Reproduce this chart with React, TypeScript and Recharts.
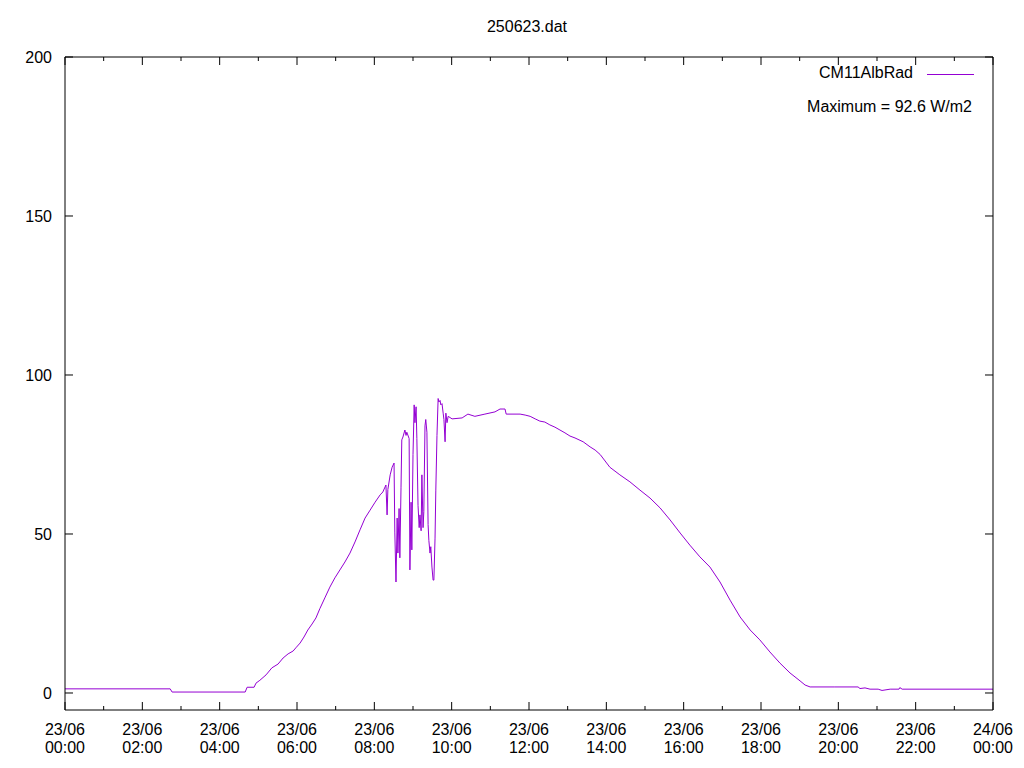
import { LineChart, Line, XAxis, YAxis } from 'recharts'

// time of day in hours (23/06)
const hours = [
  0, 2.72, 2.77, 4.66, 4.71, 4.89, 4.94, 5.04, 5.2, 5.35, 5.51, 5.64, 5.77, 5.9, 5.97,
  6.08, 6.18, 6.28, 6.39, 6.49, 6.59, 6.72, 6.85, 6.98, 7.11, 7.24, 7.37, 7.5, 7.63, 7.76,
  7.89, 8.02, 8.15, 8.22, 8.3, 8.33, 8.35, 8.41, 8.46, 8.51, 8.53, 8.56, 8.59, 8.61, 8.64,
  8.66, 8.69, 8.71, 8.74, 8.79, 8.82, 8.84, 8.9, 8.92, 8.95, 8.97, 9.0, 9.03, 9.05, 9.08,
  9.1, 9.13, 9.16, 9.18, 9.21, 9.23, 9.26, 9.28, 9.31, 9.33, 9.36, 9.39, 9.41, 9.44, 9.46,
  9.49, 9.52, 9.54, 9.57, 9.59, 9.62, 9.65, 9.67, 9.7, 9.72, 9.75, 9.78, 9.8, 9.83, 9.85,
  9.88, 9.91, 10.01, 10.27, 10.42, 10.6, 10.86, 11.12, 11.25, 11.38, 11.41, 11.77, 11.9,
  12.03, 12.16, 12.28, 12.41, 12.54, 12.67, 12.8, 12.93, 13.06, 13.19, 13.4, 13.58, 13.71,
  13.84, 14.09, 14.35, 14.61, 14.87, 15.13, 15.39, 15.65, 15.91, 16.16, 16.42, 16.68,
  16.94, 17.2, 17.46, 17.72, 17.97, 18.23, 18.49, 18.75, 19.01, 19.14, 19.27, 19.91, 20.51,
  20.56, 20.69, 20.82, 21.03, 21.13, 21.34, 21.57, 21.59, 21.65, 24,
]

// CM11AlbRad in W/m2
const albRad = [
  1.3, 1.3, 0.3, 0.3, 1.8, 1.8, 3.1, 4.0, 5.7, 7.9, 9.1, 11.0, 12.3, 13.2, 14.2,
  15.7, 17.6, 19.8, 21.7, 23.6, 26.5, 29.9, 33.3, 36.2, 38.7, 41.2, 44.0, 47.5, 51.3, 55.0,
  57.5, 60.0, 62.3, 63.2, 65.4, 56.0, 64.0, 68.6, 71.0, 72.3, 50.6, 34.9, 55.0, 44.0, 58.0,
  42.5, 64.5, 79.6, 80.5, 82.7, 81.0, 82.0, 80.0, 38.7, 60.0, 45.0, 75.0, 90.6, 85.0, 90.0,
  80.0, 59.0, 52.0, 56.0, 51.0, 68.6, 52.0, 57.0, 84.0, 86.0, 82.0, 53.0, 48.0, 44.0, 46.0,
  39.6, 35.5, 35.5, 48.7, 63.8, 81.0, 92.6, 91.5, 92.0, 90.6, 91.0, 88.0, 86.0, 79.0, 88.0,
  85.0, 87.0, 86.2, 86.5, 87.7, 87.0, 87.7, 88.4, 89.3, 89.3, 87.7, 87.7, 87.4,
  87.0, 86.2, 85.5, 85.2, 84.3, 83.6, 82.7, 81.8, 80.8, 80.2, 79.0, 77.4, 76.4,
  75.0, 71.0, 68.6, 66.4, 63.8, 61.3, 58.2, 54.4, 50.3, 46.5, 42.8, 39.6,
  34.9, 29.2, 23.9, 19.8, 16.7, 12.9, 9.4, 6.3, 3.8, 2.5, 1.9, 1.9, 1.9,
  1.4, 1.6, 1.2, 1.2, 0.8, 1.2, 1.2, 1.7, 1.2, 1.2,
]

const hourTicks = [0, 1, 2, 3, 4, 5, 6, 7, 8, 9, 10, 11, 12, 13, 14, 15, 16, 17, 18, 19, 20, 21, 22, 23, 24]
const valueTicks = [0, 50, 100, 150, 200]

const data = hours.map((t, i) => ({ t, v: albRad[i] }))
const maxValue = Math.max(...albRad)

const FONT = '"Liberation Sans", Arial, sans-serif'
const COLOR = '#9400d3'

const dayLabel = (h: number) => (h >= 24 ? '24/06' : '23/06')
const timeLabel = (h: number) => String(h % 24).padStart(2, '0') + ':00'

function BottomTick({ x, y, payload }: any) {
  const h = payload.value
  const major = h % 2 === 0
  return (
    <g>
      <line x1={x} y1={y} x2={x} y2={y - (major ? 8 : 4)} stroke="#000" />
      {major && (
        <text textAnchor="middle" fontSize={16} fontFamily={FONT} fill="#000">
          <tspan x={x} y={y + 25}>{dayLabel(h)}</tspan>
          <tspan x={x} y={y + 43}>{timeLabel(h)}</tspan>
        </text>
      )}
    </g>
  )
}

function TopTick({ x, y, payload }: any) {
  const major = payload.value % 2 === 0
  return <line x1={x} y1={y} x2={x} y2={y + (major ? 8 : 4)} stroke="#000" />
}

function LeftTick({ x, y, payload }: any) {
  return (
    <g>
      <line x1={x} y1={y} x2={x + 8} y2={y} stroke="#000" />
      <text x={x - 13} y={y + 6} textAnchor="end" fontSize={16} fontFamily={FONT} fill="#000">
        {payload.value}
      </text>
    </g>
  )
}

function RightTick({ x, y }: any) {
  return <line x1={x} y1={y} x2={x - 8} y2={y} stroke="#000" />
}

export default function App() {
  return (
    <div style={{ position: 'absolute', left: 0, top: 0, width: 1024, height: 768, background: '#fff', fontFamily: FONT }}>
      <div style={{ position: 'absolute', left: 0, width: 1054, top: 18, textAlign: 'center', fontSize: 16 }}>
        250623.dat
      </div>
      <LineChart width={1024} height={768} data={data} margin={{ top: 0, right: 0, bottom: 0, left: 0 }}>
        <XAxis
          dataKey="t"
          type="number"
          domain={[0, 24]}
          ticks={hourTicks}
          interval={0}
          height={58}
          tickSize={0}
          tickMargin={0}
          tickLine={false}
          axisLine={{ stroke: '#000' }}
          tick={(p: any) => <BottomTick {...p} />}
        />
        <XAxis
          xAxisId="top"
          orientation="top"
          dataKey="t"
          type="number"
          domain={[0, 24]}
          allowDataOverflow
          ticks={hourTicks}
          interval={0}
          height={57}
          tickSize={0}
          tickMargin={0}
          tickLine={false}
          axisLine={{ stroke: '#000' }}
          tick={(p: any) => <TopTick {...p} />}
        />
        <YAxis
          type="number"
          domain={[-5.35, 200]}
          ticks={valueTicks}
          interval={0}
          width={65}
          tickSize={0}
          tickMargin={0}
          tickLine={false}
          axisLine={{ stroke: '#000' }}
          tick={(p: any) => <LeftTick {...p} />}
        />
        <YAxis
          yAxisId="right"
          orientation="right"
          type="number"
          domain={[-5.35, 200]}
          allowDataOverflow
          ticks={valueTicks}
          interval={0}
          width={31}
          tickSize={0}
          tickMargin={0}
          tickLine={false}
          axisLine={{ stroke: '#000' }}
          tick={(p: any) => <RightTick {...p} />}
        />
        <Line
          type="linear"
          dataKey="v"
          stroke={COLOR}
          strokeWidth={1}
          dot={false}
          activeDot={false}
          isAnimationActive={false}
        />
      </LineChart>
      <div style={{ position: 'absolute', right: 111, top: 64, fontSize: 16 }}>CM11AlbRad</div>
      <div style={{ position: 'absolute', left: 927, top: 74, width: 47, borderTop: `1px solid ${COLOR}` }} />
      <div style={{ position: 'absolute', right: 52, top: 98, fontSize: 16 }}>
        Maximum = {maxValue.toFixed(1)} W/m2
      </div>
    </div>
  )
}
